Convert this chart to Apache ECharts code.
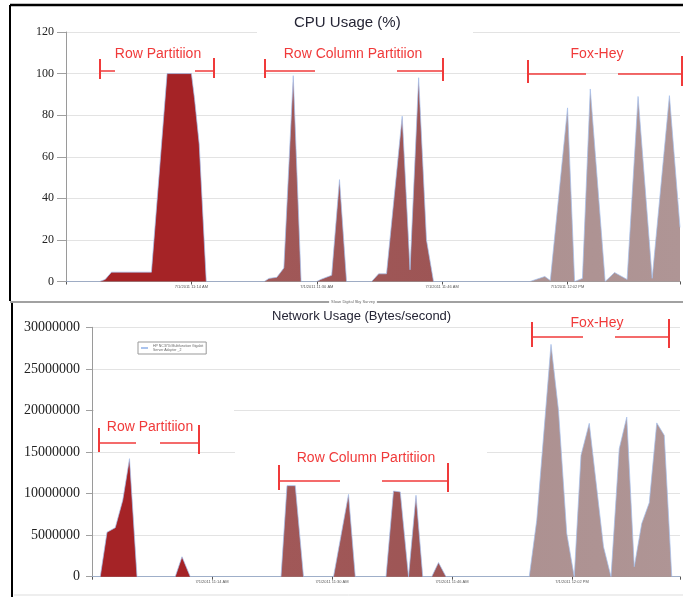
<!DOCTYPE html>
<html>
<head>
<meta charset="utf-8">
<script src="https://cdn.jsdelivr.net/npm/echarts@6/dist/echarts.min.js"></script>
<style>
  html, body { margin: 0; padding: 0; background: #fff; }
  #chart { width: 683px; height: 597px; }
</style>
</head>
<body>
<div id="chart"></div>
<script>
// x values are minutes after 10:58 AM
const cpuMinutes = [0, 4.3, 5.0, 5.8, 10.9, 12.9, 16.0, 16.4, 17.0, 17.9, 25.3, 25.9, 26.9, 27.8, 29.0, 30.0,
  32.0, 32.5, 33.9, 34.9, 35.8, 39.0, 39.9, 40.9, 42.9, 43.9, 45.0, 46.0, 46.9,
  59.2, 61.1, 61.8, 64.0, 64.9, 65.9, 66.9, 68.8, 70.0, 71.6, 73.0, 74.8, 77.0, 78.35];
const cpuValues = [0, 0, 1, 4.5, 4.5, 100, 100, 88, 66, 0, 0, 1.5, 2, 6.5, 99, 0,
  0, 1, 3, 49, 0, 0, 3.7, 3.7, 79.5, 5.6, 98, 20, 0,
  0, 2.4, 0.5, 83.5, 0, 1.5, 92.6, 0, 4.3, 1, 89, 1.5, 89.4, 26];

const netMinutes = [0, 1.1, 2.0, 3.1, 4.1, 5.0, 6.0, 11.1, 12.0, 13.1, 25.2, 26.0, 27.1, 28.2,
  32.2, 34.2, 35.1, 39.2, 40.2, 41.1, 42.2, 43.2, 44.1, 45.3, 46.2, 47.2,
  58.3, 59.3, 61.2, 62.2, 63.3, 64.3, 65.2, 66.3, 68.2, 69.2, 70.3, 71.3, 72.3, 73.3, 74.3, 75.3, 76.3, 77.3, 78.4];
const netValues = [0, 0, 5340000, 5900000, 9200000, 14200000, 0, 0, 2400000, 0, 0, 10950000, 10950000, 0,
  0, 9900000, 0, 0, 10300000, 10200000, 0, 9800000, 0, 0, 1700000, 0,
  0, 6800000, 27950000, 20000000, 5200000, 0, 14600000, 18450000, 3600000, 0, 15400000, 19200000, 1200000, 6400000, 8900000, 18500000, 17000000, 0, 0];

const tickMinutes = [16, 32, 48, 64];
const tickLabels = ['7/1/2011 11:14 AM', '7/1/2011 11:30 AM', '7/1/2011 11:46 AM', '7/1/2011 12:02 PM'];
const adapterName = 'HP NC373i Multifunction Gigabit Server Adapter _2';

const chart = echarts.init(document.getElementById('chart'));

const zip = (xs, ys) => xs.map((x, i) => [x, ys[i]]);
const timeLabel = v => {
  const i = tickMinutes.indexOf(Math.round(v * 100) / 100);
  return i >= 0 ? tickLabels[i] : '';
};

const areaFill = () => new echarts.graphic.LinearGradient(0, 0, 1, 0, [
  { offset: 0, color: '#a52326' },
  { offset: 0.26, color: '#a52326' },
  { offset: 0.31, color: '#a15858' },
  { offset: 0.62, color: '#9d5555' },
  { offset: 0.72, color: '#ad9191' },
  { offset: 1, color: '#af9595' }
]);

const red = '#f03a3a';
const annFont = '14px "Liberation Sans", Arial, sans-serif';

// text, centre x, centre y, bracket y, [left bar x, top, bottom], left line end, right line start, [right bar x, top, bottom]
const annotations = [
  ['Row Partitiion', 158, 54, 71, [100, 59, 79], 115, 195, [214, 58, 78]],
  ['Row Column Partitiion', 353, 54, 71, [265, 59, 78], 315, 397, [443, 58, 81]],
  ['Fox-Hey', 597, 54, 74, [528, 60, 83], 586, 618, [682, 56, 86]],
  ['Row Partitiion', 150, 427, 443, [99, 428, 452], 136, 160, [199, 425, 454]],
  ['Row Column Partitiion', 366, 458, 481, [279, 465, 490], 340, 382, [448, 463, 492]],
  ['Fox-Hey', 597, 323, 337, [532, 322, 347], 583, 615, [669, 319, 348]]
];

const graphics = [];
const line = (x1, y1, x2, y2, stroke, w, z) => graphics.push({
  type: 'line', z: z, silent: true,
  shape: { x1, y1, x2, y2 },
  style: { stroke, lineWidth: w }
});

annotations.forEach(a => {
  const [txt, cx, cy, by, lb, le, rs, rb] = a;
  graphics.push({
    type: 'text', z: 10, silent: true,
    style: { text: txt, x: cx, y: cy, fill: red, font: annFont,
      align: 'center', verticalAlign: 'middle', textAlign: 'center', textVerticalAlign: 'middle' }
  });
  line(lb[0], lb[1], lb[0], lb[2], red, 2, 10);
  line(lb[0], by, le, by, red, 1.5, 10);
  line(rs, by, rb[0], by, red, 1.5, 10);
  line(rb[0], rb[1], rb[0], rb[2], red, 2, 10);
});

// white patches where the original screenshot hides grid lines
[[257, 29, 216, 6], [94, 406, 140, 8], [235, 448, 252, 8]].forEach(r => graphics.push({
  type: 'rect', z: 1, silent: true,
  shape: { x: r[0], y: r[1], width: r[2], height: r[3] },
  style: { fill: '#fff' }
}));

// frames
line(10, 5, 683, 5, '#000', 2.5, 10);
line(10, 5, 10, 301, '#000', 2, 10);
line(10, 302, 683, 302, '#444', 1.2, 10);
line(12, 303, 12, 597, '#000', 2, 10);
line(14, 595, 683, 595, '#ddd', 1, 10);
graphics.push({
  type: 'text', z: 11, silent: true,
  style: { text: 'Sloan Digital Sky Survey', x: 353, y: 302, fill: '#666',
    font: '4px "Liberation Sans", Arial, sans-serif', backgroundColor: '#fff', padding: [1, 2],
    align: 'center', verticalAlign: 'middle', textAlign: 'center', textVerticalAlign: 'middle' }
});

const xAxisBase = (gridIndex, max) => ({
  type: 'value', gridIndex, min: 0, max, interval: 16,
  axisLine: { lineStyle: { color: '#9a9a9a', width: 1 } },
  axisTick: { show: true, length: 3, lineStyle: { color: '#555' } },
  axisLabel: { fontSize: 4, color: '#555', margin: 3, formatter: timeLabel,
    fontFamily: '"Liberation Sans", Arial, sans-serif' },
  splitLine: { show: false }
});

const yAxisBase = (gridIndex, max, interval, fontSize, tickLen) => ({
  type: 'value', gridIndex, min: 0, max, interval,
  axisLine: { show: true, lineStyle: { color: '#9a9a9a' } },
  axisTick: { show: true, length: tickLen, lineStyle: { color: '#a0a0a0' } },
  axisLabel: { fontSize, color: '#222', margin: 12, fontFamily: '"Liberation Serif", "Times New Roman", serif',
    formatter: v => String(v) },
  splitLine: { lineStyle: { color: '#e3e3e3', width: 1 } }
});

const seriesBase = (name, idx, data) => ({
  name, type: 'line', xAxisIndex: idx, yAxisIndex: idx,
  data, showSymbol: false, symbol: 'none',
  lineStyle: { color: '#a3bfec', width: 0.7 },
  itemStyle: { color: '#a3bfec' },
  areaStyle: { color: areaFill(), opacity: 1 },
  z: 2
});

chart.setOption({
  animation: false,
  backgroundColor: '#fff',
  title: [
    { text: 'CPU Usage (%)', left: 294, top: 15, padding: 0,
      textStyle: { fontSize: 15, fontWeight: 'normal', color: '#252535', fontFamily: '"Liberation Sans", Arial, sans-serif' } },
    { text: 'Network Usage (Bytes/second)', left: 272, top: 310, padding: 0,
      textStyle: { fontSize: 13, fontWeight: 'normal', color: '#252535', fontFamily: '"Liberation Sans", Arial, sans-serif' } }
  ],
  legend: {
    data: [{ name: adapterName, itemStyle: { color: '#8fb0e8' } }],
    left: 138, top: 342, orient: 'vertical',
    icon: 'rect', itemWidth: 7, itemHeight: 1.5, itemGap: 0,
    padding: [2, 3, 2, 3],
    borderColor: '#999', borderWidth: 1, backgroundColor: '#fff',
    formatter: () => 'HP NC373i Multifunction Gigabit\nServer Adapter _2',
    textStyle: { fontSize: 3.5, color: '#666', lineHeight: 4, fontFamily: '"Liberation Sans", Arial, sans-serif' }
  },
  grid: [
    { left: 66, top: 32, width: 617, height: 249.5 },
    { left: 92, top: 327.3, width: 588, height: 249.4 }
  ],
  xAxis: [xAxisBase(0, 78.35), xAxisBase(1, 78.4)],
  yAxis: [yAxisBase(0, 120, 20, 12, 9), yAxisBase(1, 30000000, 5000000, 14, 6)],
  series: [
    seriesBase('CPU', 0, zip(cpuMinutes, cpuValues)),
    seriesBase(adapterName, 1, zip(netMinutes, netValues))
  ],
  graphic: graphics
});
</script>
</body>
</html>
